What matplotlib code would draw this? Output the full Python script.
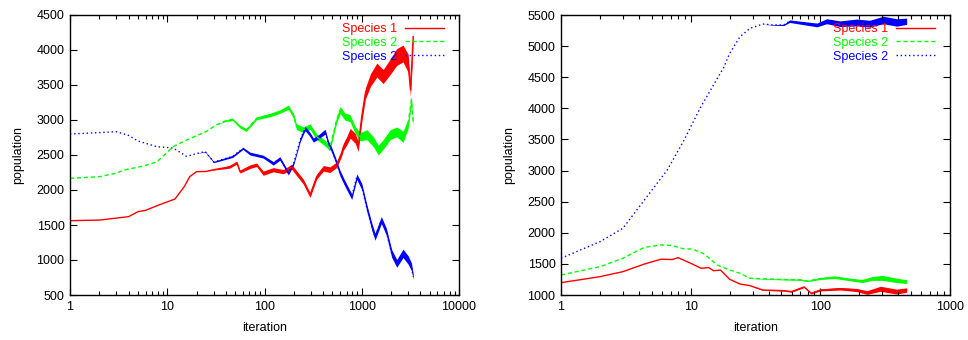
import matplotlib
matplotlib.use("Agg")
import matplotlib.pyplot as plt
from matplotlib.ticker import FixedLocator, LogLocator, NullFormatter, FuncFormatter
import numpy as np

plt.rcParams['font.family'] = ['Liberation Sans', 'DejaVu Sans']

# ---------------- Left panel data ----------------
L_red_x = [1, 2, 4, 5, 6, 8, 10, 12, 15, 17, 20, 25, 30, 40, 44, 52, 56, 71, 83, 97,
           123, 156, 190, 214, 251, 294, 344, 403, 470, 551, 620, 648, 700, 760, 855, 920,
           1000, 1090, 1230, 1430, 1660, 1960, 2290, 2660, 3000, 3170, 3300, 3380]
L_red_y = [1562, 1570, 1619, 1690, 1710, 1780, 1830, 1871, 2050, 2190, 2262, 2265, 2290, 2320,
           2333, 2390, 2262, 2333, 2360, 2240, 2290, 2262, 2333, 2240, 2119, 1928, 2190, 2310,
           2290, 2360, 2524, 2619, 2700, 2810, 2740, 2620, 3048, 3380, 3571, 3714, 3620, 3760,
           3900, 3950, 3810, 3430, 3900, 4190]
L_red_s = [0, 0, 0, 0, 0, 0, 0, 0, 0, 0, 0, 0, 5, 15, 20, 20, 20, 25, 25, 30, 30, 30, 35, 35,
           35, 35, 35, 40, 40, 40, 45, 50, 60, 70, 70, 70, 80, 80, 90, 100, 100, 110, 120, 120,
           130, 90, 120, 60]

L_green_x = [1, 2, 3, 3.6, 5.7, 7.8, 11.5, 15.8, 25, 32, 40, 44, 47, 56, 65, 83, 114, 144, 176,
             199, 213, 251, 294, 344, 420, 470, 551, 600, 670, 760, 855, 960, 1130, 1315, 1480,
             1660, 1960, 2290, 2660, 3000, 3240, 3380]
L_green_y = [2167, 2190, 2240, 2286, 2343, 2400, 2619, 2714, 2833, 2929, 2990, 3000, 3010, 2905,
             2857, 3024, 3071, 3120, 3181, 3060, 2905, 2860, 2905, 2760, 2670, 2600, 3000, 3143,
             3050, 3024, 2860, 2760, 2790, 2690, 2570, 2650, 2790, 2830, 2760, 2950, 3286, 2950]
L_green_s = [0, 0, 0, 0, 0, 0, 0, 0, 0, 0, 10, 15, 15, 20, 20, 20, 25, 25, 30, 35, 40, 40, 40,
             40, 40, 40, 45, 50, 50, 50, 50, 60, 70, 70, 70, 70, 70, 70, 80, 70, 60, 40]

L_blue_x = [1, 2, 3, 4, 5, 7.8, 11.5, 15.8, 20, 24.5, 30, 47, 60, 71, 97, 123, 144, 176, 199,
            213, 232, 261, 294, 318, 360, 420, 453, 491, 530, 598, 670, 789, 890, 1000, 1130,
            1270, 1370, 1590, 1790, 2030, 2290, 2660, 3000, 3240, 3380]
L_blue_y = [2800, 2820, 2833, 2780, 2700, 2619, 2600, 2480, 2520, 2550, 2400, 2480, 2595, 2520,
            2476, 2381, 2450, 2240, 2381, 2524, 2714, 2881, 2790, 2714, 2760, 2833, 2670, 2571,
            2452, 2240, 2095, 1905, 2190, 2050, 1738, 1476, 1333, 1571, 1405, 1095, 952, 1095,
            1000, 905, 762]
L_blue_s = [0, 0, 0, 0, 0, 0, 0, 0, 0, 5, 10, 15, 15, 20, 20, 25, 25, 25, 25, 25, 30, 30, 30,
            30, 30, 35, 35, 35, 35, 40, 40, 40, 40, 45, 50, 50, 50, 50, 50, 55, 55, 60, 60, 55, 40]

# ---------------- Right panel data ----------------
R_blue_x = [1, 2, 3, 4.4, 6.6, 8.9, 12, 15, 18, 20, 24, 28.7, 36, 43.5, 52, 58, 74, 94, 112,
            142, 190, 240, 305, 388, 463]
R_blue_y = [1590, 1857, 2072, 2527, 3009, 3491, 4027, 4375, 4658, 4884, 5152, 5286, 5355, 5340,
            5340, 5400, 5370, 5340, 5400, 5360, 5380, 5360, 5420, 5380, 5400]
R_blue_s = [0, 0, 0, 0, 0, 0, 0, 0, 0, 0, 0, 0, 0, 5, 10, 20, 25, 30, 40, 45, 55, 55, 60, 60, 50]

R_green_x = [1, 2, 3, 4.4, 5.9, 7.2, 8.9, 10.3, 12.7, 16, 20, 24, 28.7, 36, 52, 70, 80, 100,
             130, 165, 210, 250, 300, 388, 463]
R_green_y = [1322, 1455, 1590, 1766, 1804, 1795, 1740, 1740, 1660, 1482, 1402, 1349, 1270, 1260,
             1250, 1245, 1225, 1265, 1285, 1252, 1225, 1265, 1275, 1235, 1215]
R_green_s = [0, 0, 0, 0, 0, 0, 0, 0, 0, 0, 0, 0, 3, 5, 8, 10, 10, 15, 20, 20, 25, 30, 40, 35, 30]

R_red_x = [1, 2, 3, 4.4, 5.9, 7.2, 8, 10, 12, 13.8, 15, 17, 20, 24, 28.7, 36, 52, 60, 75, 85,
           100, 142, 190, 230, 290, 388, 463]
R_red_y = [1198, 1295, 1375, 1498, 1575, 1570, 1600, 1510, 1430, 1440, 1390, 1400, 1252, 1177,
           1150, 1080, 1070, 1055, 1130, 1027, 1080, 1100, 1080, 1040, 1100, 1055, 1080]
R_red_s = [0, 0, 0, 0, 0, 0, 0, 0, 0, 0, 0, 0, 0, 0, 0, 5, 8, 10, 10, 10, 15, 20, 25, 30, 40,
           40, 35]

labels = ["Species 1", "Species 2", "Species 2"]
colors = ["#ff0000", "#00ff00", "#0000ff"]
styles = ["-", (0, (3, 2)), (0, (1, 2))]

fig = plt.figure(figsize=(9.68, 3.4), dpi=100)
axL = fig.add_axes([70 / 968, 1 - 295 / 340, 389 / 968, 280 / 340])
axR = fig.add_axes([561 / 968, 1 - 295 / 340, 389 / 968, 280 / 340])


def draw(ax, series, xlim, ylim, yticks):
    for (x, y, s), lab, c, ls in zip(series, labels, colors, styles):
        x = np.asarray(x, float)
        y = np.asarray(y, float)
        s = np.asarray(s, float)
        ax.fill_between(x, y - s, y + s, color=c, lw=0)
        ax.plot(x, y, color=c, ls=ls, lw=1.0, label=lab)
    ax.set_xscale('log')
    ax.set_xlim(*xlim)
    ax.set_ylim(*ylim)
    ax.yaxis.set_major_locator(FixedLocator(yticks))
    ax.xaxis.set_major_locator(LogLocator(base=10))
    ax.xaxis.set_minor_locator(LogLocator(base=10, subs=np.arange(2, 10)))
    ax.xaxis.set_minor_formatter(NullFormatter())
    ax.xaxis.set_major_formatter(FuncFormatter(lambda v, p: "%d" % round(v)))
    ax.tick_params(which='both', direction='in', top=True, right=True, labelsize=9,
                   colors='black', width=0.8)
    ax.tick_params(which='major', length=5, pad=4)
    ax.tick_params(which='minor', length=3)
    for sp in ax.spines.values():
        sp.set_linewidth(1.0)
    ax.set_xlabel("iteration", fontsize=9, labelpad=7)
    ax.set_ylabel("population", fontsize=9, labelpad=9)
    ax.legend(loc='upper right', bbox_to_anchor=(1 - 0.032, 1 - 0.02), frameon=False,
              markerfirst=False, fontsize=9, labelcolor='linecolor', handlelength=3.1,
              handletextpad=0.65, labelspacing=0.14, borderaxespad=0.0, borderpad=0.2)


draw(axL, [(L_red_x, L_red_y, L_red_s), (L_green_x, L_green_y, L_green_s),
           (L_blue_x, L_blue_y, L_blue_s)],
     (1, 10000), (500, 4500), list(range(500, 4501, 500)))
draw(axR, [(R_red_x, R_red_y, R_red_s), (R_green_x, R_green_y, R_green_s),
           (R_blue_x, R_blue_y, R_blue_s)],
     (1, 1000), (1000, 5500), list(range(1000, 5501, 500)))

fig.savefig("out.png", dpi=100)
